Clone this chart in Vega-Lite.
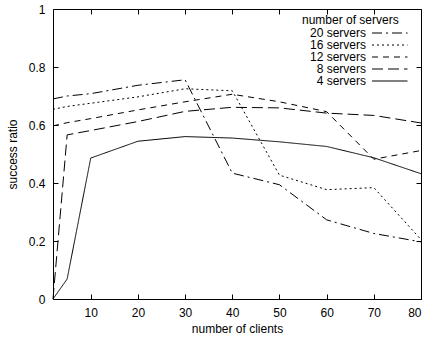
{
  "$schema": "https://vega.github.io/schema/vega-lite/v6.json",
  "width": 368,
  "height": 290,
  "autosize": {"type": "none"},
  "padding": {"left": 53, "top": 9, "right": 7, "bottom": 38},
  "config": {
    "font": "Liberation Sans",
    "view": {"stroke": "black", "strokeWidth": 1},
    "axis": {"grid": false, "domain": false, "ticks": true, "tickColor": "black", "tickSize": 5, "tickWidth": 1, "offset": -5, "labelColor": "black", "labelFontSize": 12, "labelPadding": 8, "titleColor": "black", "titleFontSize": 12, "titleFontWeight": "normal", "labelFont": "Liberation Sans", "titleFont": "Liberation Sans"},
    "legend": {"labelFont": "Liberation Sans", "titleFont": "Liberation Sans"}
  },
  "data": {"values": [
    {"clients": 2, "ratio": 0.69, "servers": "20 servers"},
    {"clients": 5, "ratio": 0.70, "servers": "20 servers"},
    {"clients": 10, "ratio": 0.708, "servers": "20 servers"},
    {"clients": 20, "ratio": 0.737, "servers": "20 servers"},
    {"clients": 30, "ratio": 0.756, "servers": "20 servers"},
    {"clients": 40, "ratio": 0.434, "servers": "20 servers"},
    {"clients": 50, "ratio": 0.394, "servers": "20 servers"},
    {"clients": 60, "ratio": 0.273, "servers": "20 servers"},
    {"clients": 70, "ratio": 0.226, "servers": "20 servers"},
    {"clients": 80, "ratio": 0.197, "servers": "20 servers"},
    {"clients": 2, "ratio": 0.654, "servers": "16 servers"},
    {"clients": 5, "ratio": 0.664, "servers": "16 servers"},
    {"clients": 10, "ratio": 0.675, "servers": "16 servers"},
    {"clients": 20, "ratio": 0.697, "servers": "16 servers"},
    {"clients": 30, "ratio": 0.725, "servers": "16 servers"},
    {"clients": 40, "ratio": 0.718, "servers": "16 servers"},
    {"clients": 50, "ratio": 0.427, "servers": "16 servers"},
    {"clients": 60, "ratio": 0.377, "servers": "16 servers"},
    {"clients": 70, "ratio": 0.384, "servers": "16 servers"},
    {"clients": 80, "ratio": 0.205, "servers": "16 servers"},
    {"clients": 2, "ratio": 0.597, "servers": "12 servers"},
    {"clients": 5, "ratio": 0.608, "servers": "12 servers"},
    {"clients": 10, "ratio": 0.622, "servers": "12 servers"},
    {"clients": 20, "ratio": 0.652, "servers": "12 servers"},
    {"clients": 30, "ratio": 0.68, "servers": "12 servers"},
    {"clients": 40, "ratio": 0.706, "servers": "12 servers"},
    {"clients": 50, "ratio": 0.68, "servers": "12 servers"},
    {"clients": 60, "ratio": 0.646, "servers": "12 servers"},
    {"clients": 70, "ratio": 0.482, "servers": "12 servers"},
    {"clients": 80, "ratio": 0.512, "servers": "12 servers"},
    {"clients": 2, "ratio": 0.0, "servers": "8 servers"},
    {"clients": 5, "ratio": 0.566, "servers": "8 servers"},
    {"clients": 10, "ratio": 0.581, "servers": "8 servers"},
    {"clients": 20, "ratio": 0.612, "servers": "8 servers"},
    {"clients": 30, "ratio": 0.647, "servers": "8 servers"},
    {"clients": 40, "ratio": 0.661, "servers": "8 servers"},
    {"clients": 50, "ratio": 0.659, "servers": "8 servers"},
    {"clients": 60, "ratio": 0.641, "servers": "8 servers"},
    {"clients": 70, "ratio": 0.633, "servers": "8 servers"},
    {"clients": 80, "ratio": 0.607, "servers": "8 servers"},
    {"clients": 2, "ratio": 0.0, "servers": "4 servers"},
    {"clients": 5, "ratio": 0.069, "servers": "4 servers"},
    {"clients": 10, "ratio": 0.486, "servers": "4 servers"},
    {"clients": 20, "ratio": 0.544, "servers": "4 servers"},
    {"clients": 30, "ratio": 0.56, "servers": "4 servers"},
    {"clients": 40, "ratio": 0.555, "servers": "4 servers"},
    {"clients": 50, "ratio": 0.542, "servers": "4 servers"},
    {"clients": 60, "ratio": 0.526, "servers": "4 servers"},
    {"clients": 70, "ratio": 0.487, "servers": "4 servers"},
    {"clients": 80, "ratio": 0.432, "servers": "4 servers"}
  ]},
  "layer": [
    {
      "mark": {"type": "line", "color": "black", "strokeWidth": 1},
      "encoding": {
        "x": {"field": "clients", "type": "quantitative", "scale": {"domain": [2, 80], "nice": false, "zero": false},
              "axis": {"values": [10, 20, 30, 40, 50, 60, 70, 80], "title": "number of clients", "titlePadding": 5}},
        "y": {"field": "ratio", "type": "quantitative", "scale": {"domain": [0, 1], "nice": false},
              "axis": {"values": [0, 0.2, 0.4, 0.6, 0.8, 1], "format": ".1~f", "title": "success ratio", "titlePadding": 9}},
        "strokeDash": {"field": "servers", "type": "nominal",
          "scale": {"domain": ["20 servers", "16 servers", "12 servers", "8 servers", "4 servers"],
                    "range": [[10, 4, 2, 4], [2, 3], [6, 5], [11, 5], [1, 0]]},
          "legend": {"title": "number of servers", "orient": "none", "legendX": 249, "legendY": 6,
                     "symbolType": "M12.8,0H19.9", "symbolSize": 100, "symbolStrokeWidth": 1, "symbolStrokeColor": "black",
                     "labelAlign": "right", "labelOffset": 52, "labelFontSize": 12, "titleFontSize": 12, "titleFontWeight": "normal",
                     "titleColor": "black", "labelColor": "black", "rowPadding": 0, "titleAnchor": "start", "titlePadding": 0}}
      }
    },
    {
      "mark": {"type": "line", "opacity": 0},
      "encoding": {
        "x": {"field": "clients", "type": "quantitative", "axis": {"orient": "top", "values": [10, 20, 30, 40, 50, 60, 70, 80], "labels": false, "title": null}},
        "y": {"field": "ratio", "type": "quantitative", "axis": {"orient": "right", "values": [0, 0.2, 0.4, 0.6, 0.8, 1], "labels": false, "title": null}},
        "detail": {"field": "servers"}
      }
    }
  ],
  "resolve": {"axis": {"x": "independent", "y": "independent"}}
}
